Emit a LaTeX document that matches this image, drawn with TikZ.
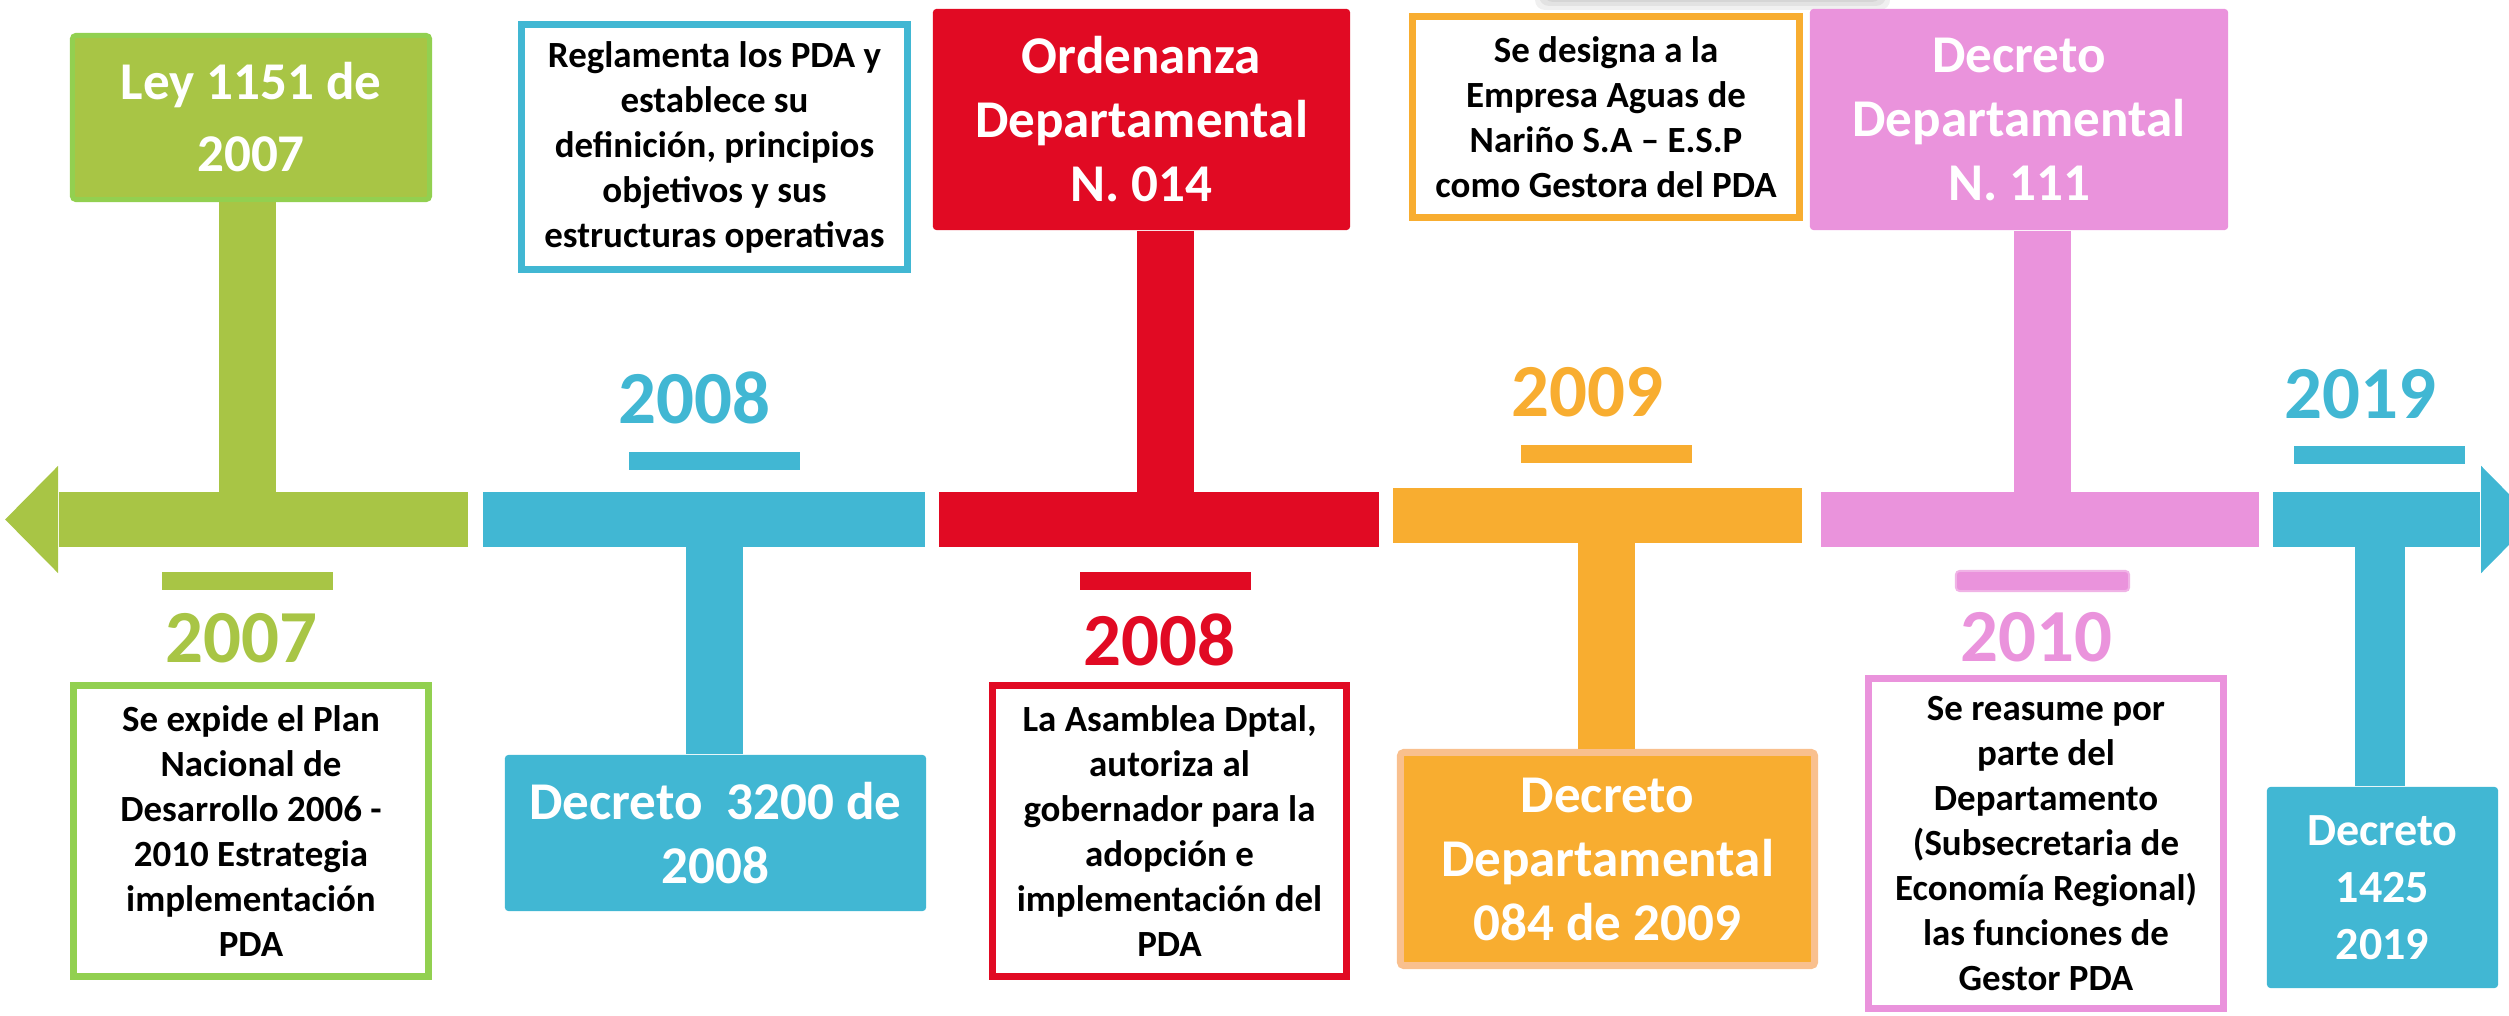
\documentclass[tikz,border=0pt]{standalone}
\usepackage{fontspec}
\setmainfont{Carlito}
\usetikzlibrary{positioning}
\definecolor{tlgreen}{HTML}{A8C545}
\definecolor{tlgreenedge}{HTML}{92D050}
\definecolor{tlblue}{HTML}{41B7D3}
\definecolor{tlred}{HTML}{E10A23}
\definecolor{tlorange}{HTML}{F8AD30}
\definecolor{tlpeach}{HTML}{F9C08E}
\definecolor{tlpink}{HTML}{EA93DC}
\definecolor{tlpinkedge}{HTML}{F0B3E6}
\tikzstyle{bar} = [inner sep=0,minimum height=0.54cm]
\tikzstyle{tickbar} = [inner sep=0,minimum width=1.71cm,minimum height=0.18cm]
\tikzstyle{sign} = [inner sep=0,align=center,rounded corners=1pt,text=white,font=\bfseries\fontsize{15.1}{18.2}\selectfont]
\tikzstyle{note} = [draw,line width=0.07cm,fill=white,inner sep=0,align=center,font=\bfseries\fontsize{10.5}{12.8}\selectfont]
\tikzstyle{year} = [inner sep=0,font=\bfseries\fontsize{21.3}{25}\selectfont]
\tikzstyle{stemline} = [line width=0.57cm]

\begin{document}
\begin{tikzpicture}[x=0.01cm,y=-0.01cm]
  \useasboundingbox (0,0) rectangle (2509,1016);
  \clip (0,0) rectangle (2509,1016);

  \foreach \s in {0,4,8,12}
    \fill[black,opacity=0.06,rounded corners=0.1cm] (1535+\s,-20) rectangle (1890-\s,10-\s);

  \node[bar,fill=tlgreen,minimum width=4.09cm] (gbar) at (263.5,519.5) {};
  \node[bar,fill=tlblue,minimum width=4.42cm,right=0.13cm of gbar] (bbar) {};
  \node[bar,fill=tlred,minimum width=4.40cm,right=0.13cm of bbar] (rbar) {};
  \node[bar,fill=tlorange,minimum width=4.09cm,right=0.12cm of rbar,yshift=0.04cm] (obar) {};
  \node[bar,fill=tlpink,minimum width=4.38cm,right=0.17cm of obar,yshift=-0.04cm] (pbar) {};
  \node[bar,fill=tlblue,minimum width=2.07cm,right=0.13cm of pbar] (b2bar) {};
  \fill[tlgreen] (gbar.north west) -- ++(0,-26) -- ([xshift=-0.53cm]gbar.west)
    -- ([yshift=-0.26cm]gbar.south west) -- (gbar.south west) -- cycle;
  \fill[tlblue] (b2bar.north east) -- ++(0,-26) -- ([xshift=0.53cm]b2bar.east)
    -- ([yshift=-0.26cm]b2bar.south east) -- (b2bar.south east) -- cycle;

  \node[tickbar,fill=tlgreen] (gtick) at (247.5,581) {};
  \node[tickbar,fill=tlblue] (btick) at (714.5,461) {};
  \node[tickbar,fill=tlred] (rtick) at (1165.5,581) {};
  \node[tickbar,fill=tlorange] (otick) at (1606.5,454) {};
  \node[tickbar,fill=tlpink,draw=tlpinkedge,line width=0.02cm,rounded corners=1pt,minimum width=1.73cm,minimum height=0.2cm] (ptick) at (2042.5,581) {};
  \node[tickbar,fill=tlblue] (b2tick) at (2379.5,455) {};

  \node[year,text=tlgreen,below=0.22cm of gtick,xshift=-0.06cm] (gyear) {2007};
  \node[year,text=tlblue,above=0.27cm of btick,xshift=-0.2cm] (byear) {2008};
  \node[year,text=tlred,below=0.22cm of rtick,xshift=-0.06cm] (ryear) {2008};
  \node[year,text=tlorange,above=0.27cm of otick,xshift=-0.19cm] (oyear) {2009};
  \node[year,text=tlpink,below=0.2cm of ptick,xshift=-0.06cm] (pyear) {2010};
  \node[year,text=tlblue,above=0.26cm of b2tick,xshift=-0.19cm] (b2year) {2019};

  \node[sign,fill=tlgreen,draw=tlgreenedge,line width=0.05cm,minimum width=3.57cm,minimum height=1.64cm,font=\bfseries\fontsize{15.1}{20.5}\selectfont] (gtop) at (251,117.5) {Ley 1151 de\\2007};
  \node[note,draw=tlblue,minimum width=3.86cm,minimum height=2.45cm] (btop) at (714.5,147) {Reglamenta los PDA y\\establece su\\definición, principios\\objetivos y sus\\estructuras operativas};
  \node[sign,fill=tlred,minimum width=4.17cm,minimum height=2.21cm] (rtop) at (1141.5,119.5) {Ordenanza\\Departamental\\N. 014};
  \node[note,draw=tlorange,minimum width=3.87cm,minimum height=2.01cm] (otop) at (1606,117) {Se designa a la\\Empresa Aguas de\\Nariño S.A – E.S.P\\como Gestora del PDA};
  \node[sign,fill=tlpink,minimum width=4.18cm,minimum height=2.21cm] (ptop) at (2019,119.5) {Decreto\\Departamental\\N. 111};

  \node[note,draw=tlgreenedge,minimum width=3.55cm,minimum height=2.91cm] (gbot) at (251,831) {Se expide el Plan\\Nacional de\\Desarrollo 2006 -\\2010 Estrategia\\implementación\\PDA};
  \node[sign,fill=tlblue,minimum width=4.21cm,minimum height=1.56cm] (bbot) at (715.5,833) {Decreto\ \ 3200 de\\2008};
  \node[note,draw=tlred,minimum width=3.54cm,minimum height=2.91cm] (rbot) at (1169.5,831) {La Asamblea Dptal,\\autoriza al\\gobernador para la\\adopción e\\implementación del\\PDA};
  \node[sign,fill=tlorange,draw=tlpeach,line width=0.07cm,minimum width=4.14cm,minimum height=2.13cm] (obot) at (1607.5,859) {Decreto\\Departamental\\084 de 2009};
  \node[note,draw=tlpink,minimum width=3.55cm,minimum height=3.30cm] (pbot) at (2046,843.5) {Se reasume por\\parte del\\Departamento\\(Subsecretaria de\\Economía Regional)\\las funciones de\\Gestor PDA};
  \node[sign,fill=tlblue,minimum width=2.31cm,minimum height=2.01cm,font=\bfseries\fontsize{13.1}{16.2}\selectfont] (b2bot) at (2382.5,887.5) {Decreto\\1425\\2019};

  \draw[stemline,tlgreen] (gtick |- gtop.south) -- (gtick |- gbar.north);
  \draw[stemline,tlblue] (btick |- bbar.south) -- (btick |- bbot.north);
  \draw[stemline,tlred] (rtick |- rtop.south) -- (rtick |- rbar.north);
  \draw[stemline,tlorange] (otick |- obar.south) -- (otick |- obot.north);
  \draw[stemline,tlpink] (ptick |- ptop.south) -- (ptick |- pbar.north);
  \draw[stemline,tlblue,line width=0.5cm] (b2tick |- b2bar.south) -- (b2tick |- b2bot.north);
\end{tikzpicture}
\end{document}
